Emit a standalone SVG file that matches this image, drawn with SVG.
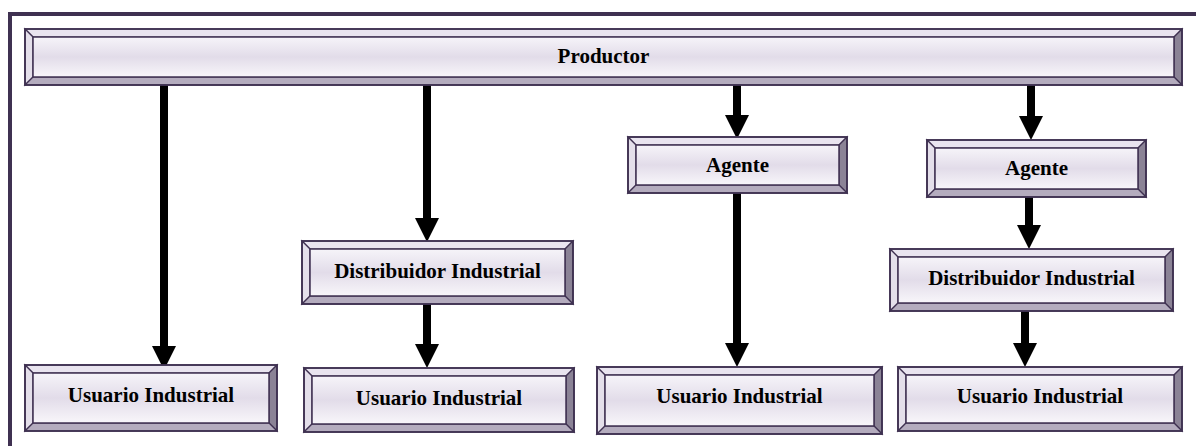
<svg xmlns="http://www.w3.org/2000/svg" width="1196" height="446" viewBox="0 0 1196 446">
  <style>
    .frame { fill: none; stroke: #3f3151; stroke-width: 4; }
    .edge { stroke: #3f3151; stroke-width: 1.2; stroke-linejoin: miter; }
    .top { fill: #e9e4ef; }
    .left { fill: #e4dfea; }
    .right { fill: #8b8396; }
    .bottom { fill: #b4acbe; }
    .inner { fill: url(#faceGrad); stroke: #3f3151; stroke-width: 1.5; }
    .outline { fill: none; stroke: #3f3151; stroke-width: 1.8; }
    .label { font-weight: bold; font-size: 21px; fill: #000; text-anchor: middle; }
    .conn { stroke: #000; stroke-width: 8; fill: none; marker-end: url(#head); }
  </style>
  <defs>
    <linearGradient id="faceGrad" x1="0" y1="0" x2="0" y2="1">
      <stop offset="0" stop-color="#f6f4f9"/>
      <stop offset="0.5" stop-color="#e2dce9"/>
      <stop offset="1" stop-color="#f8f6fa"/>
    </linearGradient>
    <marker id="head" viewBox="0 -12 24 24" refX="0" refY="0" markerWidth="24" markerHeight="24" markerUnits="userSpaceOnUse" orient="auto">
      <path d="M0,-12 L24,0 L0,12 Z" fill="#000"/>
    </marker>
  </defs>

  <rect class="frame" x="10" y="14" width="1200" height="450"/>

  <!-- connectors -->
  <g id="connectors">
    <line class="conn" x1="164" y1="85" x2="164" y2="346"/>
    <line class="conn" x1="427" y1="85" x2="427" y2="218"/>
    <line class="conn" x1="737" y1="85" x2="737" y2="115"/>
    <line class="conn" x1="1031" y1="85" x2="1031" y2="116"/>
    <line class="conn" x1="737" y1="193" x2="737" y2="343"/>
    <line class="conn" x1="1029" y1="197" x2="1029" y2="225"/>
    <line class="conn" x1="427" y1="304" x2="427" y2="344"/>
    <line class="conn" x1="1025" y1="311" x2="1025" y2="343"/>
  </g>

  <g font-family="Liberation Serif, Times New Roman, serif">
  <g id="productor">
    <polygon class="top edge" points="25,29 1182,29 1174,37 33,37"/>
    <polygon class="left edge" points="25,29 33,37 33,77 25,85"/>
    <polygon class="right edge" points="1182,29 1182,85 1174,77 1174,37"/>
    <polygon class="bottom edge" points="25,85 33,77 1174,77 1182,85"/>
    <rect class="inner" x="33" y="37" width="1141" height="40"/>
    <rect class="outline" x="25" y="29" width="1157" height="56"/>
    <text class="label" x="603.5" y="63">Productor</text>
  </g>

  <g id="usuario1">
    <polygon class="top edge" points="25,365 277,365 269,373 33,373"/>
    <polygon class="left edge" points="25,365 33,373 33,423 25,431"/>
    <polygon class="right edge" points="277,365 277,431 269,423 269,373"/>
    <polygon class="bottom edge" points="25,431 33,423 269,423 277,431"/>
    <rect class="inner" x="33" y="373" width="236" height="50"/>
    <rect class="outline" x="25" y="365" width="252" height="66"/>
    <text class="label" x="151" y="402">Usuario Industrial</text>
  </g>

  <g id="distribuidor1">
    <polygon class="top edge" points="302,241 573,241 565,249 310,249"/>
    <polygon class="left edge" points="302,241 310,249 310,296 302,304"/>
    <polygon class="right edge" points="573,241 573,304 565,296 565,249"/>
    <polygon class="bottom edge" points="302,304 310,296 565,296 573,304"/>
    <rect class="inner" x="310" y="249" width="255" height="47"/>
    <rect class="outline" x="302" y="241" width="271" height="63"/>
    <text class="label" x="437.5" y="278">Distribuidor Industrial</text>
  </g>

  <g id="usuario2">
    <polygon class="top edge" points="304,368 574,368 566,376 312,376"/>
    <polygon class="left edge" points="304,368 312,376 312,424 304,432"/>
    <polygon class="right edge" points="574,368 574,432 566,424 566,376"/>
    <polygon class="bottom edge" points="304,432 312,424 566,424 574,432"/>
    <rect class="inner" x="312" y="376" width="254" height="48"/>
    <rect class="outline" x="304" y="368" width="270" height="64"/>
    <text class="label" x="439" y="405">Usuario Industrial</text>
  </g>

  <g id="agente1">
    <polygon class="top edge" points="628,137 847,137 839,145 636,145"/>
    <polygon class="left edge" points="628,137 636,145 636,185 628,193"/>
    <polygon class="right edge" points="847,137 847,193 839,185 839,145"/>
    <polygon class="bottom edge" points="628,193 636,185 839,185 847,193"/>
    <rect class="inner" x="636" y="145" width="203" height="40"/>
    <rect class="outline" x="628" y="137" width="219" height="56"/>
    <text class="label" x="737.5" y="172">Agente</text>
  </g>

  <g id="usuario3">
    <polygon class="top edge" points="597,367 882,367 874,375 605,375"/>
    <polygon class="left edge" points="597,367 605,375 605,426 597,434"/>
    <polygon class="right edge" points="882,367 882,434 874,426 874,375"/>
    <polygon class="bottom edge" points="597,434 605,426 874,426 882,434"/>
    <rect class="inner" x="605" y="375" width="269" height="51"/>
    <rect class="outline" x="597" y="367" width="285" height="67"/>
    <text class="label" x="739.5" y="403">Usuario Industrial</text>
  </g>

  <g id="agente2">
    <polygon class="top edge" points="927,140 1146,140 1138,148 935,148"/>
    <polygon class="left edge" points="927,140 935,148 935,189 927,197"/>
    <polygon class="right edge" points="1146,140 1146,197 1138,189 1138,148"/>
    <polygon class="bottom edge" points="927,197 935,189 1138,189 1146,197"/>
    <rect class="inner" x="935" y="148" width="203" height="41"/>
    <rect class="outline" x="927" y="140" width="219" height="57"/>
    <text class="label" x="1036.5" y="175">Agente</text>
  </g>

  <g id="distribuidor2">
    <polygon class="top edge" points="890,249 1173,249 1165,257 898,257"/>
    <polygon class="left edge" points="890,249 898,257 898,303 890,311"/>
    <polygon class="right edge" points="1173,249 1173,311 1165,303 1165,257"/>
    <polygon class="bottom edge" points="890,311 898,303 1165,303 1173,311"/>
    <rect class="inner" x="898" y="257" width="267" height="46"/>
    <rect class="outline" x="890" y="249" width="283" height="62"/>
    <text class="label" x="1031.5" y="285">Distribuidor Industrial</text>
  </g>

  <g id="usuario4">
    <polygon class="top edge" points="898,367 1182,367 1174,375 906,375"/>
    <polygon class="left edge" points="898,367 906,375 906,423 898,431"/>
    <polygon class="right edge" points="1182,367 1182,431 1174,423 1174,375"/>
    <polygon class="bottom edge" points="898,431 906,423 1174,423 1182,431"/>
    <rect class="inner" x="906" y="375" width="268" height="48"/>
    <rect class="outline" x="898" y="367" width="284" height="64"/>
    <text class="label" x="1040" y="403">Usuario Industrial</text>
  </g>
  </g>
</svg>
